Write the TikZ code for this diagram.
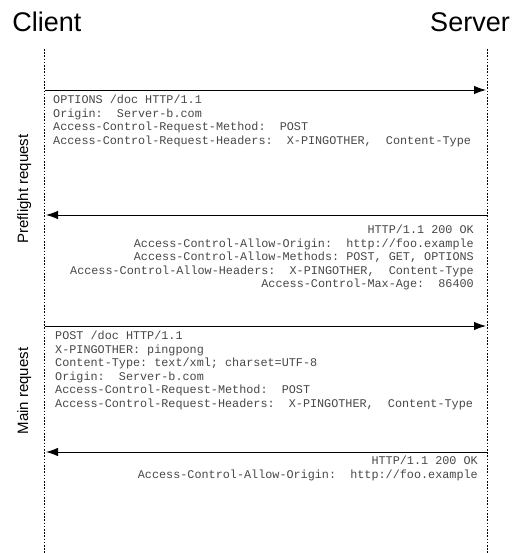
\documentclass[tikz,border=0pt]{standalone}
\usepackage{fontspec}
\setmainfont{Liberation Sans}
\setmonofont{Liberation Mono}
\usetikzlibrary{arrows.meta}
\tikzset {>={Latex[length=12pt,width=8.5pt]}}

\begin{document}
\begin{tikzpicture}[x=1pt,y=-1pt,
  party/.style={anchor=base,font=\fontsize{27}{30}\selectfont},
  phase/.style={rotate=90,anchor=base,font=\fontsize{15}{18}\selectfont},
  life/.style={line width=0.8pt,dash pattern=on 1.6pt off 1.6pt},
  msg/.style={->,line width=0.9pt},
  hdr/.style={inner sep=0pt,text=black!72,font=\ttfamily\fontsize{11.8}{13.6}\selectfont}]
\useasboundingbox (0,0) rectangle (521,553);
\node[party] (client) at (47,32) {Client};
\node[party] (server) at (470,32) {Server};
\coordinate (Ctop) at (44,49);
\coordinate (Cbot) at (44,553);
\coordinate (Stop) at (487,49);
\coordinate (Sbot) at (487,553);
\draw[life] (Ctop) -- (Cbot);
\draw[life] (Stop) -- (Sbot);
\node[phase] (pre) at (28,189) {Preflight request};
\node[phase] (main) at (28,391) {Main request};
% preflight
\coordinate (C1) at (45,90);
\coordinate (S1) at (486,90);
\draw[msg] (C1) -- (S1);
\node[hdr,align=left,anchor=base west] (req1) at (53,144.3) {OPTIONS /doc HTTP/1.1\\
Origin:~ Server-b.com\\
Access-Control-Request-Method:~ POST\\
Access-Control-Request-Headers:~ X-PINGOTHER,~ Content-Type};
\coordinate (S2) at (487,215);
\coordinate (C2) at (46,215);
\draw[msg] (S2) -- (C2);
\node[hdr,align=right,anchor=base east] (res1) at (474,287.9) {HTTP/1.1 200 OK\\
Access-Control-Allow-Origin:~ http://foo.example\\
Access-Control-Allow-Methods: POST, GET, OPTIONS\\
Access-Control-Allow-Headers:~ X-PINGOTHER,~ Content-Type\\
Access-Control-Max-Age:~ 86400};
% main request
\coordinate (C3) at (45,326);
\coordinate (S3) at (486,326);
\draw[msg] (C3) -- (S3);
\node[hdr,align=left,anchor=base west] (req2) at (55,407.5) {POST /doc HTTP/1.1\\
X-PINGOTHER: pingpong\\
Content-Type: text/xml; charset=UTF-8\\
Origin:~ Server-b.com\\
Access-Control-Request-Method:~ POST\\
Access-Control-Request-Headers:~ X-PINGOTHER,~ Content-Type};
\coordinate (S4) at (487,452);
\coordinate (C4) at (46,452);
\draw[msg] (S4) -- (C4);
\node[hdr,align=right,anchor=base east] (res2) at (478,478.1) {HTTP/1.1 200 OK\\
Access-Control-Allow-Origin:~ http://foo.example};
\end{tikzpicture}
\end{document}
